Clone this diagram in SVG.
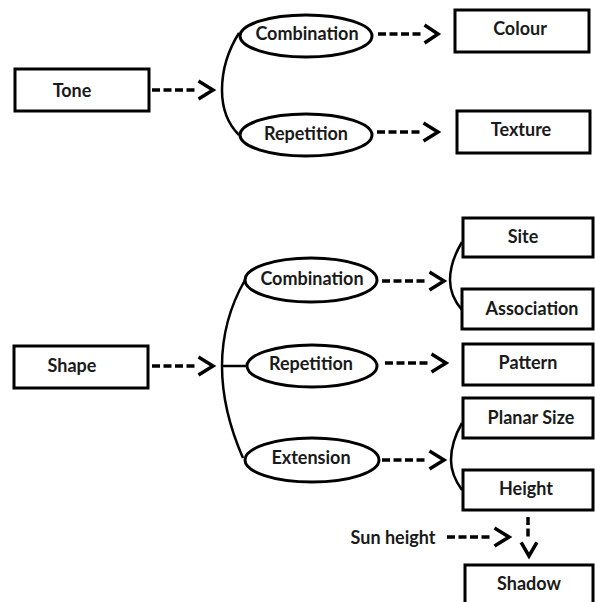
<svg xmlns="http://www.w3.org/2000/svg" width="595" height="602" viewBox="0 0 595 602">
  <style>
    .box { fill: #fff; stroke: #000; stroke-width: 3; }
    .ell { fill: #fff; stroke: #000; stroke-width: 3; }
    .lbl { font-family: Lato, "Open Sans", "Liberation Sans", sans-serif; font-weight: bold; font-size: 18px; fill: #1a1a1a; text-anchor: middle; }
    .brace { fill: none; stroke: #000; stroke-width: 2.5; }
    .dash { fill: none; stroke: #000; stroke-width: 3.5; stroke-dasharray: 8 3.5; }
    .head { fill: none; stroke: #000; stroke-width: 3.5; stroke-linecap: square; stroke-linejoin: miter; }
  </style>

  <!-- connectors: branch brackets and dashed arrows -->
  <g id="connectors">
    <!-- Tone branches -->
    <path class="brace" d="M239,33 Q222,60 222,90 Q222,118 239,135"/>
    <!-- Shape branches -->
    <path class="brace" d="M245,280 Q222,320 222,366 Q222,410 243,458"/>
    <path class="brace" d="M222,366 L247,366"/>
    <!-- small braces -->
    <path class="brace" d="M462,242 Q450,262 450,280 Q450,296 462,310"/>
    <path class="brace" d="M462,423 Q451,442 451,460 Q451,475 462,490"/>

    <!-- Tone -> branches -->
    <path class="dash" d="M152,90 H197"/>
    <path class="head" d="M200,82 L213,90 L200,98"/>
    <!-- Combination -> Colour -->
    <path class="dash" d="M378,34 H423"/>
    <path class="head" d="M426,26 L438,34 L426,42"/>
    <!-- Repetition -> Texture -->
    <path class="dash" d="M377,132 H422"/>
    <path class="head" d="M425,124 L438,132 L425,140"/>

    <!-- Shape -> branches -->
    <path class="dash" d="M152,366 H197"/>
    <path class="head" d="M200,358 L213,366 L200,374"/>
    <!-- Combination -> Site / Association -->
    <path class="dash" d="M382,281 H428"/>
    <path class="head" d="M431,273 L444,281 L431,289"/>
    <!-- Repetition -> Pattern -->
    <path class="dash" d="M385,363 H430"/>
    <path class="head" d="M433,355 L446,363 L433,371"/>
    <!-- Extension -> Planar Size / Height -->
    <path class="dash" d="M382,460 H428"/>
    <path class="head" d="M431,452 L444,460 L431,468"/>
    <!-- Sun height -> -->
    <path class="dash" d="M447,537 H493"/>
    <path class="head" d="M496,529 L509,537 L496,545"/>
    <!-- Height -> Shadow -->
    <path class="dash" d="M528,517 V540"/>
    <path class="head" d="M522,544 L529,556 L536,544"/>
  </g>

  <!-- Tone group -->
  <g id="tone">
    <rect class="box" x="15" y="69" width="134" height="42"/>
    <text class="lbl" x="72" y="97">Tone</text>
  </g>
  <g id="combination-1">
    <ellipse class="ell" cx="306" cy="36" rx="66" ry="21"/>
    <text class="lbl" x="307" y="40">Combination</text>
  </g>
  <g id="repetition-1">
    <ellipse class="ell" cx="306" cy="135" rx="66" ry="21"/>
    <text class="lbl" x="306" y="140">Repetition</text>
  </g>
  <g id="colour">
    <rect class="box" x="455" y="10" width="134" height="42"/>
    <text class="lbl" x="520" y="35">Colour</text>
  </g>
  <g id="texture">
    <rect class="box" x="457" y="111" width="133" height="42"/>
    <text class="lbl" x="521" y="136">Texture</text>
  </g>

  <!-- Shape group -->
  <g id="shape">
    <rect class="box" x="14" y="346" width="134" height="42"/>
    <text class="lbl" x="72" y="372">Shape</text>
  </g>
  <g id="combination-2">
    <ellipse class="ell" cx="311" cy="280" rx="66" ry="22"/>
    <text class="lbl" x="312" y="285">Combination</text>
  </g>
  <g id="repetition-2">
    <ellipse class="ell" cx="312" cy="366" rx="65" ry="21"/>
    <text class="lbl" x="311" y="370">Repetition</text>
  </g>
  <g id="extension">
    <ellipse class="ell" cx="312" cy="460" rx="67" ry="22"/>
    <text class="lbl" x="311" y="464">Extension</text>
  </g>
  <g id="site">
    <rect class="box" x="463" y="218" width="130" height="39"/>
    <text class="lbl" x="523" y="243">Site</text>
  </g>
  <g id="association">
    <rect class="box" x="462" y="289" width="131" height="40"/>
    <text class="lbl" x="532" y="315">Association</text>
  </g>
  <g id="pattern">
    <rect class="box" x="463" y="344" width="130" height="41"/>
    <text class="lbl" x="528" y="369">Pattern</text>
  </g>
  <g id="planar-size">
    <rect class="box" x="463" y="398" width="130" height="40"/>
    <text class="lbl" x="531" y="424">Planar Size</text>
  </g>
  <g id="height">
    <rect class="box" x="463" y="470" width="130" height="40"/>
    <text class="lbl" x="526" y="495">Height</text>
  </g>
  <g id="sun-height">
    <text class="lbl" x="393" y="544">Sun height</text>
  </g>
  <g id="shadow">
    <rect class="box" x="465" y="565" width="128" height="45"/>
    <text class="lbl" x="529" y="590">Shadow</text>
  </g>
</svg>
